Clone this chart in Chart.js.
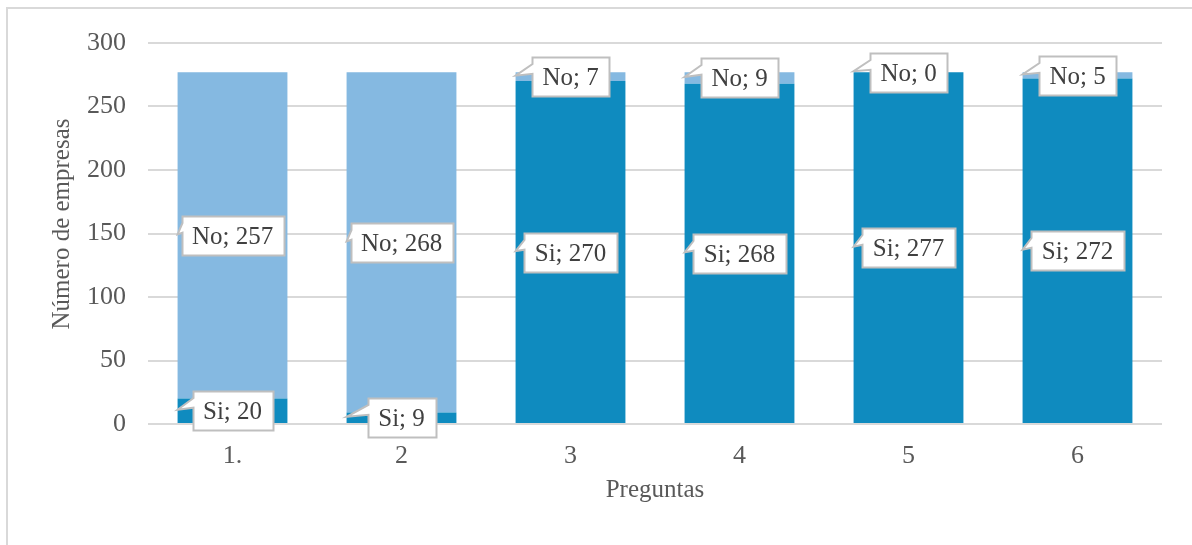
<!DOCTYPE html>
<html>
<head>
<meta charset="utf-8">
<script src="https://cdn.jsdelivr.net/npm/chart.js@4.4.1/dist/chart.umd.min.js"></script>
<style>
  html, body { margin: 0; padding: 0; background: #ffffff; }
  canvas { display: block; }
</style>
</head>
<body>
<canvas id="chart" width="1192" height="545"></canvas>
<script>
// Survey answers per question (stacked: Si + No)
const categories = ['1.', '2', '3', '4', '5', '6'];
const siValues = [20, 9, 270, 268, 277, 272];
const noValues = [257, 268, 7, 9, 0, 5];
const yTicks = [0, 50, 100, 150, 200, 250, 300];
const seriesNames = ['Si', 'No'];
const yAxisTitle = 'Número de empresas';
const xAxisTitle = 'Preguntas';

const SERIF = "'Liberation Serif', 'Times New Roman', serif";
const TEXT_GREY = '#595959';
const GRID_GREY = '#D9D9D9';

// White background and the thin frame around the chart
const framePlugin = {
  id: 'frame',
  beforeDraw(chart) {
    const ctx = chart.ctx;
    ctx.save();
    ctx.fillStyle = '#ffffff';
    ctx.fillRect(0, 0, chart.width, chart.height);
    ctx.strokeStyle = GRID_GREY;
    ctx.lineWidth = 2;
    ctx.beginPath();
    ctx.moveTo(7, chart.height + 2);
    ctx.lineTo(7, 8);
    ctx.lineTo(chart.width + 2, 8);
    ctx.stroke();
    ctx.restore();
  }
};

// Vertical axis title, centred on the plot
const yTitlePlugin = {
  id: 'yTitle',
  afterDraw(chart) {
    const ctx = chart.ctx;
    ctx.save();
    ctx.translate(62, 224);
    ctx.rotate(-Math.PI / 2);
    ctx.font = `25px ${SERIF}`;
    ctx.fillStyle = TEXT_GREY;
    ctx.textAlign = 'center';
    ctx.textBaseline = 'middle';
    ctx.fillText(yAxisTitle, 0, 0);
    ctx.restore();
  }
};

// Callout boxes "Serie; valor" with a wedge pointing at the bar edge
const calloutPlugin = {
  id: 'callouts',
  afterDatasetsDraw(chart) {
    const ctx = chart.ctx;
    ctx.save();
    ctx.font = `25px ${SERIF}`;
    chart.data.datasets.forEach((ds, di) => {
      const meta = chart.getDatasetMeta(di);
      meta.data.forEach((bar, i) => {
        const value = ds.data[i];
        const text = `${ds.label}; ${value}`;
        const p = bar.getProps(['x', 'y', 'base', 'width'], true);
        const cy = (p.y + p.base) / 2;
        const tipX = p.x - p.width / 2;
        const tw = ctx.measureText(text).width;
        const w = Math.round(tw + 21);
        const h = 39;
        const left = Math.round(p.x - w / 2) + 0.5;
        const top = Math.round(cy - h / 2) + 0.5;

        ctx.beginPath();
        ctx.moveTo(left, top);
        ctx.lineTo(left + w, top);
        ctx.lineTo(left + w, top + h);
        ctx.lineTo(left, top + h);
        ctx.lineTo(left, top + h * 5 / 12);
        ctx.lineTo(tipX, cy - 1);
        ctx.lineTo(left, top + h * 2 / 12);
        ctx.closePath();
        ctx.fillStyle = '#ffffff';
        ctx.fill();
        ctx.strokeStyle = '#BFBFBF';
        ctx.lineWidth = 2;
        ctx.lineJoin = 'miter';
        ctx.stroke();

        ctx.fillStyle = '#404040';
        ctx.textAlign = 'center';
        ctx.textBaseline = 'middle';
        ctx.fillText(text, p.x, top + h / 2 + 1);
      });
    });
    ctx.restore();
  }
};

new Chart(document.getElementById('chart'), {
  type: 'bar',
  data: {
    labels: categories,
    datasets: [
      {
        label: seriesNames[0],
        data: siValues,
        backgroundColor: '#0F8BBF',
        borderWidth: 0,
        barPercentage: 0.65,
        categoryPercentage: 1.0
      },
      {
        label: seriesNames[1],
        data: noValues,
        backgroundColor: '#85B9E1',
        borderWidth: 0,
        barPercentage: 0.65,
        categoryPercentage: 1.0
      }
    ]
  },
  options: {
    responsive: false,
    animation: false,
    devicePixelRatio: 1,
    layout: { padding: { top: 43, right: 30, bottom: 0, left: 0 } },
    plugins: {
      legend: { display: false },
      tooltip: { enabled: false },
      title: { display: false }
    },
    scales: {
      x: {
        stacked: true,
        grid: { display: false, drawTicks: false },
        border: { display: false },
        ticks: {
          color: TEXT_GREY,
          font: { family: SERIF, size: 26 },
          padding: 17,
          maxRotation: 0
        },
        title: {
          display: true,
          text: xAxisTitle,
          color: TEXT_GREY,
          font: { family: SERIF, size: 25 },
          padding: { top: 0, bottom: 40 }
        },
        afterFit(scale) { scale.height = 121; }
      },
      y: {
        stacked: true,
        min: 0,
        max: 300,
        grid: { color: GRID_GREY, lineWidth: 2, drawTicks: false },
        border: { display: false },
        ticks: {
          color: TEXT_GREY,
          font: { family: SERIF, size: 26 },
          padding: 22
        },
        afterBuildTicks(scale) {
          scale.ticks = yTicks.map(v => ({ value: v }));
        },
        afterFit(scale) { scale.width = 148; }
      }
    }
  },
  plugins: [framePlugin, yTitlePlugin, calloutPlugin]
});
</script>
</body>
</html>
